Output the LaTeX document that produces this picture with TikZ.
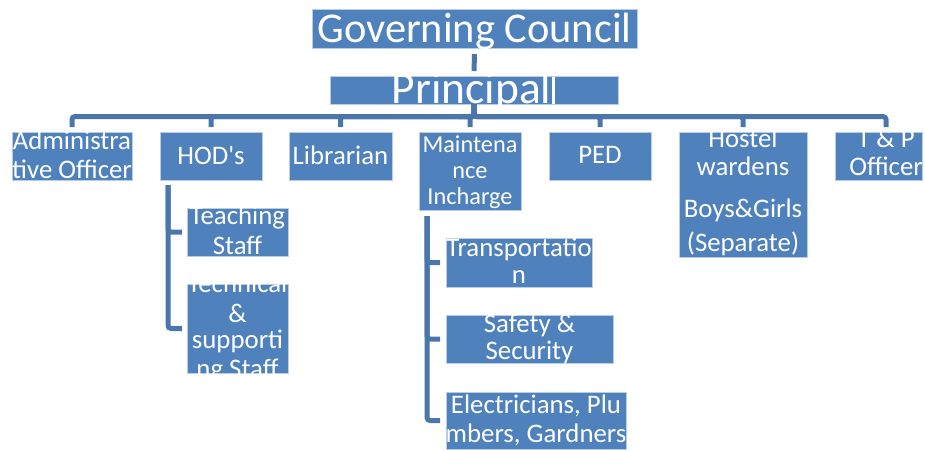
\documentclass[tikz,border=0pt]{standalone}
\usepackage{fontspec}
\setmainfont{Carlito}
\usetikzlibrary{fit}
\definecolor{boxblue}{HTML}{4F81BD}
\definecolor{connblue}{HTML}{4A76AC}
\definecolor{edgeblue}{HTML}{B9CDE5}
\begin{document}
\begin{tikzpicture}[x=1pt,y=-1pt,
  box/.style={fill=boxblue, draw=edgeblue, line width=0.5pt, inner sep=0pt, outer sep=0pt},
  conn/.style={draw=connblue, line width=5pt, rounded corners=3pt},
  txt/.style={text=white, anchor=base, inner sep=0pt, font=\fontsize{26.8}{26.8}\selectfont},
  stxt/.style={txt, font=\fontsize{24.3}{24.3}\selectfont}]
\useasboundingbox (0,0) rectangle (925,450);

% Governing council
\node[box, fit={(312,9) (637,48)}] (gc) {};
\begin{scope}\clip (312,9) rectangle (637,48);
\node[txt, font=\fontsize{42.4}{42.4}\selectfont] (gct) at (474.5,42) {Governing Council};
\end{scope}

% Principal
\node[box, fit={(330,76) (618,104)}] (pr) {};
\fill[white] (551.5,76.5) rectangle (554.5,103.5);
\begin{scope}\clip (330,76) rectangle (618,104);
\node[txt, font=\fontsize{45.5}{45.5}\selectfont] (prt) at (471.5,103) {Principal};
\end{scope}

% level 2
\node[box, fit={(12,132) (132,180)}] (adm) {};
\begin{scope}\clip (12,132) rectangle (132,180);
\node[txt] (adm1) at (72,149) {Administra};
\node[txt] (adm2) at (72,178) {tive Officer};
\end{scope}

\node[box, fit={(160,132) (262,180)}] (hod) {};
\node[txt] (hod1) at (211,164) {HOD\textquotesingle s};

\node[box, fit={(289,132) (392,180)}] (lib) {};
\node[txt] (lib1) at (340.5,164) {Librarian};

\node[box, fit={(419,132) (521,210)}] (mnt) {};
\begin{scope}\clip (419,132) rectangle (521,210);
\node[stxt] (mnt1) at (470,152) {Maintena};
\node[stxt] (mnt2) at (470,178) {nce};
\node[stxt] (mnt3) at (470,204) {Incharge};
\end{scope}

\node[box, fit={(549,132) (651,180)}] (ped) {};
\node[txt] (ped1) at (600,163) {PED};

\node[box, fit={(679,132) (807,257)}] (hst) {};
\begin{scope}\clip (679,132) rectangle (807,257);
\node[txt] (hst1) at (743,147) {Hostel};
\node[txt] (hst2) at (743,175) {wardens};
\node[txt] (hst3) at (743,217) {Boys\&Girls};
\node[txt] (hst4) at (743,251) {(Separate)};
\end{scope}

\node[box, fit={(835,132) (922,180)}] (tnp) {};
\begin{scope}\clip (835,132) rectangle (922,180);
\node[txt] (tnp1) at (886,147) {T \& P};
\node[txt] (tnp2) at (886,175) {Officer};
\end{scope}

% HOD children
\node[box, fit={(187,208) (288,256)}] (tch) {};
\begin{scope}\clip (187,208) rectangle (288,256);
\node[txt] (tch1) at (237.5,224) {Teaching};
\node[txt] (tch2) at (237.5,254) {Staff};
\end{scope}

\node[box, fit={(187,284) (288,373)}] (tec) {};
\begin{scope}\clip (187,284) rectangle (288,373);
\node[txt] (tec1) at (237.5,292) {Technical};
\node[txt] (tec2) at (237.5,322) {\&};
\node[txt] (tec3) at (237.5,348) {supporti};
\node[txt] (tec4) at (237.5,377) {ng Staff};
\end{scope}

% Maintenance children
\node[box, fit={(446,238) (592,287)}] (trn) {};
\begin{scope}\clip (446,238) rectangle (592,287);
\node[txt] (trn1) at (519,256) {Transportatio};
\node[txt] (trn2) at (519,283) {n};
\end{scope}

\node[box, fit={(446,315) (613,363)}] (saf) {};
\begin{scope}\clip (446,315) rectangle (613,363);
\node[txt] (saf1) at (529.5,332) {Safety \&};
\node[txt] (saf2) at (529.5,359) {Security};
\end{scope}

\node[box, fit={(446,392) (626,449)}] (ele) {};
\begin{scope}\clip (446,392) rectangle (626,449);
\node[txt] (ele1) at (536,413) {Electricians, Plu};
\node[txt] (ele2) at (536,442) {mbers, Gardners};
\end{scope}

% connectors
\draw[conn] ([yshift=-6pt]gc.south) -- ([yshift=5pt]pr.north);
\coordinate (bar) at (474,116.5);
\foreach \c in {adm,hod,lib,mnt,ped,hst}
  \draw[conn, shorten >=5pt] (pr.south) -- (pr.south |- bar) -| (\c.north);
\draw[conn, shorten >=5pt] (pr.south) -- (pr.south |- bar) -| ([xshift=7.5pt]tnp.north);

\foreach \c in {tch,tec}
  \draw[conn, shorten >=5pt] ([xshift=8pt,yshift=-5pt]hod.south west) |- (\c.west);
\foreach \c in {trn,saf,ele}
  \draw[conn, shorten >=6pt] ([xshift=8pt,yshift=-6pt]mnt.south west) |- (\c.west);
\end{tikzpicture}
\end{document}
